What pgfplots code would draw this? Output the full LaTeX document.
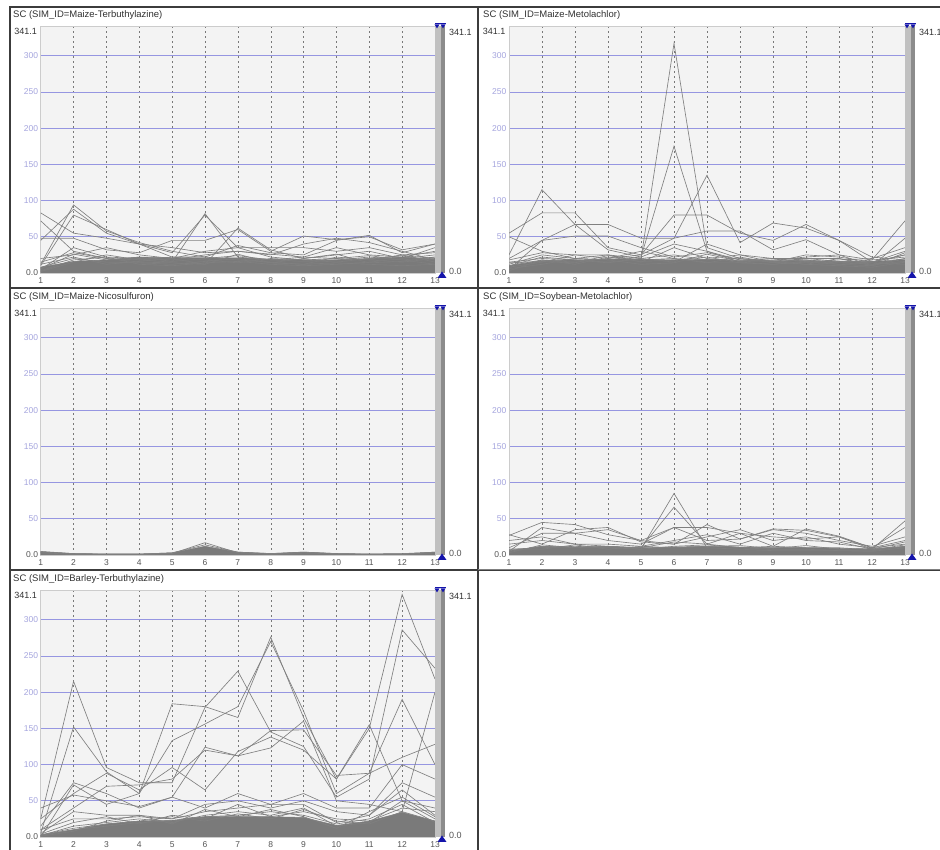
\documentclass[border=0pt]{standalone}
\usepackage{fontspec}
\setmainfont{Liberation Sans}
\usepackage{pgfplots}
\usepackage{pgfplotstable}
\pgfplotsset{compat=1.18}

\definecolor{bgc}{RGB}{243,243,243}
\definecolor{linec}{RGB}{128,128,128}
\definecolor{bandc}{RGB}{122,122,122}
\definecolor{gridb}{RGB}{150,150,225}
\definecolor{ylab}{RGB}{165,165,222}
\definecolor{xlab}{RGB}{85,85,85}
\definecolor{framec}{RGB}{60,60,60}
\definecolor{slgray}{RGB}{192,192,192}
\definecolor{sldark}{RGB}{140,140,140}
\definecolor{slblue}{RGB}{20,20,170}
\definecolor{titc}{RGB}{50,50,50}
\definecolor{vgrid}{RGB}{120,120,120}

\pgfplotstableread{
x b l1 l2 l3 l4 l5 l6 l7 l8 l9 l10 l11 l12 l13 l14
1 8 83 12 45 72 48 10 15 5 20 8 3 6 2 12
2 16 55 94 88 30 48 80 28 35 25 20 18 26 15 22
3 18 48 58 55 20 32 60 20 22 35 15 22 18 25 12
4 22 40 42 40 15 28 40 18 20 25 14 12 22 18 16
5 21 35 30 28 14 45 22 15 18 20 12 10 16 22 20
6 21 28 22 80 12 45 22 82 25 30 16 14 20 18 12
7 21 30 18 35 62 60 38 22 30 35 20 16 24 14 26
8 19 26 15 22 32 30 28 18 25 35 14 12 18 20 14
9 18 22 12 18 20 51 25 22 40 35 12 10 16 18 20
10 18 20 14 20 25 46 45 35 48 30 22 12 18 15 26
11 20 24 12 18 30 50 52 25 42 35 18 15 22 20 14
12 22 18 10 15 20 32 28 22 30 25 25 20 18 24 16
13 19 22 12 20 35 40 40 30 18 28 15 25 12 20 22
}\tabA

\pgfplotstableread{
x b l1 l2 l3 l4 l5 l6 l7 l8 l9 l10 l11 l12 l13 l14
1 10 15 12 10 25 55 20 5 50 18 8 3 10 6 14
2 17 20 25 18 115 83 45 45 30 28 15 18 22 12 16
3 18 18 20 15 67 83 67 51 20 25 25 12 18 20 14
4 19 15 18 20 32 35 67 51 25 25 20 22 14 18 24
5 19 20 22 25 22 25 48 35 15 20 30 16 20 12 18
6 18 317 175 48 40 80 48 22 35 15 20 18 25 14 20
7 19 35 30 135 30 80 58 28 20 40 15 22 18 26 14
8 17 20 15 42 18 55 58 18 25 25 15 14 20 16 22
9 17 15 12 69 15 45 32 20 15 20 18 12 16 20 14
10 17 12 15 62 18 67 46 20 25 15 22 16 12 18 20
11 16 10 12 45 15 45 25 20 22 18 25 14 20 12 16
12 16 8 10 22 12 15 18 10 15 20 10 18 12 15 14
13 18 15 20 18 20 25 72 48 30 35 28 22 16 25 12
}\tabB

\pgfplotstableread{
x b l1 l2
1 5 3 4
2 2 1 2
3 1.5 1 1
4 1.5 1 1
5 3 2 3
6 12 17 14
7 4 3 4
8 2 1 2
9 4 3 4
10 2 1 2
11 1.5 1 1
12 2 1 1
13 4 3 4
}\tabC

\pgfplotstableread{
x b l1 l2 l3 l4 l5 l6 l7 l8 l9 l10
1 6 5 8 27 5 28 10 15 20 3 8
2 12 12 10 45 38 15 30 20 25 14 8
3 11 10 12 42 30 35 30 15 15 10 14
4 12 10 10 28 35 38 20 15 12 12 8
5 10 8 10 20 20 18 15 12 10 8 12
6 11 85 66 15 38 15 38 20 18 12 10
7 12 10 15 42 38 25 20 28 15 14 12
8 11 8 10 22 30 35 22 15 30 10 13
9 10 6 8 36 12 20 35 30 25 12 9
10 10 6 8 34 36 25 30 20 22 10 13
11 9 6 6 25 26 15 20 18 25 10 8
12 8 5 6 8 10 10 12 8 10 7 9
13 12 10 12 47 20 38 25 18 15 14 11
}\tabD

\pgfplotstableread{
x b l1 l2 l3 l4 l5 l6 l7 l8 l9 l10 l11 l12 l13 l14
1 3 25 5 0 40 25 10 15 5 10 2 2 4 1 3
2 10 215 152 72 58 60 40 75 35 25 15 10 20 8 12
3 18 96 90 45 50 88 70 60 30 25 20 15 28 22 18
4 22 75 60 60 42 65 72 40 30 28 25 20 18 30 22
5 23 75 184 133 55 96 80 55 25 25 20 22 30 18 28
6 28 179 180 156 124 65 120 40 45 35 30 28 25 38 22
7 28 229 165 180 112 118 112 60 50 40 35 30 45 28 32
8 28 145 276 270 147 138 123 45 40 45 30 35 28 38 25
9 27 125 165 174 148 120 160 60 50 45 40 30 35 28 38
10 16 55 80 60 85 80 50 40 35 20 15 18 25 12 22
11 22 80 150 88 88 155 45 40 30 30 20 25 22 35 18
12 34 286 335 190 110 50 35 100 75 65 50 45 40 55 35
13 22 233 218 100 128 40 200 80 55 30 25 20 35 28 22
}\tabE

\pgfplotsset{
 panel/.style={
  scale only axis, width=394.3pt, height=247pt,
  xmin=1, xmax=13, ymin=0, ymax=341.1,
  axis background/.style={fill=bgc},
  axis line style={draw=gray!40, line width=0.5pt},
  xtick={1,...,13}, ytick={50,100,...,300},
  extra y ticks={0}, extra y tick labels={0.0},
  extra y tick style={grid=none, yticklabel style={text=xlab}},
  xmajorgrids, ymajorgrids,
  x grid style={dash pattern=on 2pt off 3pt, draw=vgrid, line width=0.4pt},
  y grid style={draw=gridb, line width=0.8pt},
  tick style={draw=none},
  /pgf/number format/assume math mode=true,
  ticklabel style={font=\fontsize{8.5}{10}\selectfont},
  yticklabel style={text=ylab, inner sep=1.5pt, xshift=-1pt},
  xticklabel style={text=xlab, yshift=-1.5pt},
 },
 dl/.style={draw=linec, line width=0.65pt, mark=none},
 band/.style={fill=bandc, draw=bandc, line width=0.5pt, mark=none},
}

\newcommand{\slider}[1]{%
 \fill[slgray] (#1.south east) rectangle ([xshift=6pt]#1.north east);
 \fill[sldark] ([xshift=6pt]#1.south east) rectangle ([xshift=9.5pt]#1.north east);
 \fill[slblue] ([xshift=-0.5pt,yshift=1.5pt]#1.north east) rectangle ([xshift=10.5pt,yshift=2.7pt]#1.north east);
 \fill[slblue] ([xshift=-0.5pt,yshift=1.6pt]#1.north east) -- ++(5pt,0) -- ++(-2.5pt,-4pt) -- cycle;
 \fill[slblue] ([xshift=5.5pt,yshift=1.6pt]#1.north east) -- ++(5pt,0) -- ++(-2.5pt,-4pt) -- cycle;
 \fill[slblue] ([xshift=2.5pt,yshift=-5pt]#1.south east) -- ++(9pt,0) -- ++(-4.5pt,6.5pt) -- cycle;
 \node[anchor=west, inner sep=1pt, text=titc, font=\fontsize{9}{10}\selectfont] at ([xshift=13pt,yshift=-6.5pt]#1.north east) {341.1};
 \node[anchor=west, inner sep=1pt, text=xlab, font=\fontsize{9}{10}\selectfont] at ([xshift=13pt,yshift=2pt]#1.south east) {0.0};
 \node[anchor=north east, inner sep=1pt, text=titc, font=\fontsize{9}{10}\selectfont] at ([xshift=-2.5pt,yshift=-1.5pt]#1.north west) {341.1};
}

\begin{document}
\begin{tikzpicture}[x=1pt,y=1pt]
\useasboundingbox (0,0) rectangle (940,850);
\fill[white] (0,0) rectangle (940,850);

% Panel 1
\begin{axis}[panel, name=p1, at={(40.7pt,577pt)}, anchor=south west]
\addplot[band] table[x=x,y=b]{\tabA} \closedcycle;
\pgfplotsinvokeforeach{1,...,14}{\addplot[dl] table[x=x,y=l#1]{\tabA};}
\end{axis}

% Panel 2
\begin{axis}[panel, width=396pt, name=p2, at={(509pt,577pt)}, anchor=south west]
\addplot[band] table[x=x,y=b]{\tabB} \closedcycle;
\pgfplotsinvokeforeach{1,...,14}{\addplot[dl] table[x=x,y=l#1]{\tabB};}
\end{axis}

% Panel 3
\begin{axis}[panel, name=p3, at={(40.7pt,295pt)}, anchor=south west]
\addplot[band] table[x=x,y=b]{\tabC} \closedcycle;
\pgfplotsinvokeforeach{1,2}{\addplot[dl] table[x=x,y=l#1]{\tabC};}
\end{axis}

% Panel 4
\begin{axis}[panel, width=396pt, name=p4, at={(509pt,295pt)}, anchor=south west]
\addplot[band] table[x=x,y=b]{\tabD} \closedcycle;
\pgfplotsinvokeforeach{1,...,10}{\addplot[dl] table[x=x,y=l#1]{\tabD};}
\end{axis}

% Panel 5
\begin{axis}[panel, name=p5, at={(40.7pt,13pt)}, anchor=south west]
\addplot[band] table[x=x,y=b]{\tabE} \closedcycle;
\pgfplotsinvokeforeach{1,...,14}{\addplot[dl] table[x=x,y=l#1]{\tabE};}
\end{axis}

\slider{p1}\slider{p2}\slider{p3}\slider{p4}\slider{p5}

% titles
\begin{scope}[every node/.style={anchor=west, inner sep=0pt, text=titc, font=\fontsize{9.5}{11}\selectfont}]
\node at (13,835) {SC (SIM\_ID=Maize-Terbuthylazine)};
\node at (483,835) {SC (SIM\_ID=Maize-Metolachlor)};
\node at (13,553) {SC (SIM\_ID=Maize-Nicosulfuron)};
\node at (483,553) {SC (SIM\_ID=Soybean-Metolachlor)};
\node at (13,271) {SC (SIM\_ID=Barley-Terbuthylazine)};
\end{scope}

% frames
\draw[framec, line width=1.3pt] (10,562) rectangle (945,843);
\draw[framec, line width=1.3pt] (478,562) -- (478,843);
\draw[framec, line width=1.3pt] (10,280) rectangle (945,562);
\draw[framec, line width=1.3pt] (478,280) -- (478,562);
\draw[framec, line width=1.3pt] (10,-5) -- (10,280) -- (478,280) -- (478,-5);
\draw[gray, line width=1pt] (478,280) -- (945,280);
\end{tikzpicture}
\end{document}
